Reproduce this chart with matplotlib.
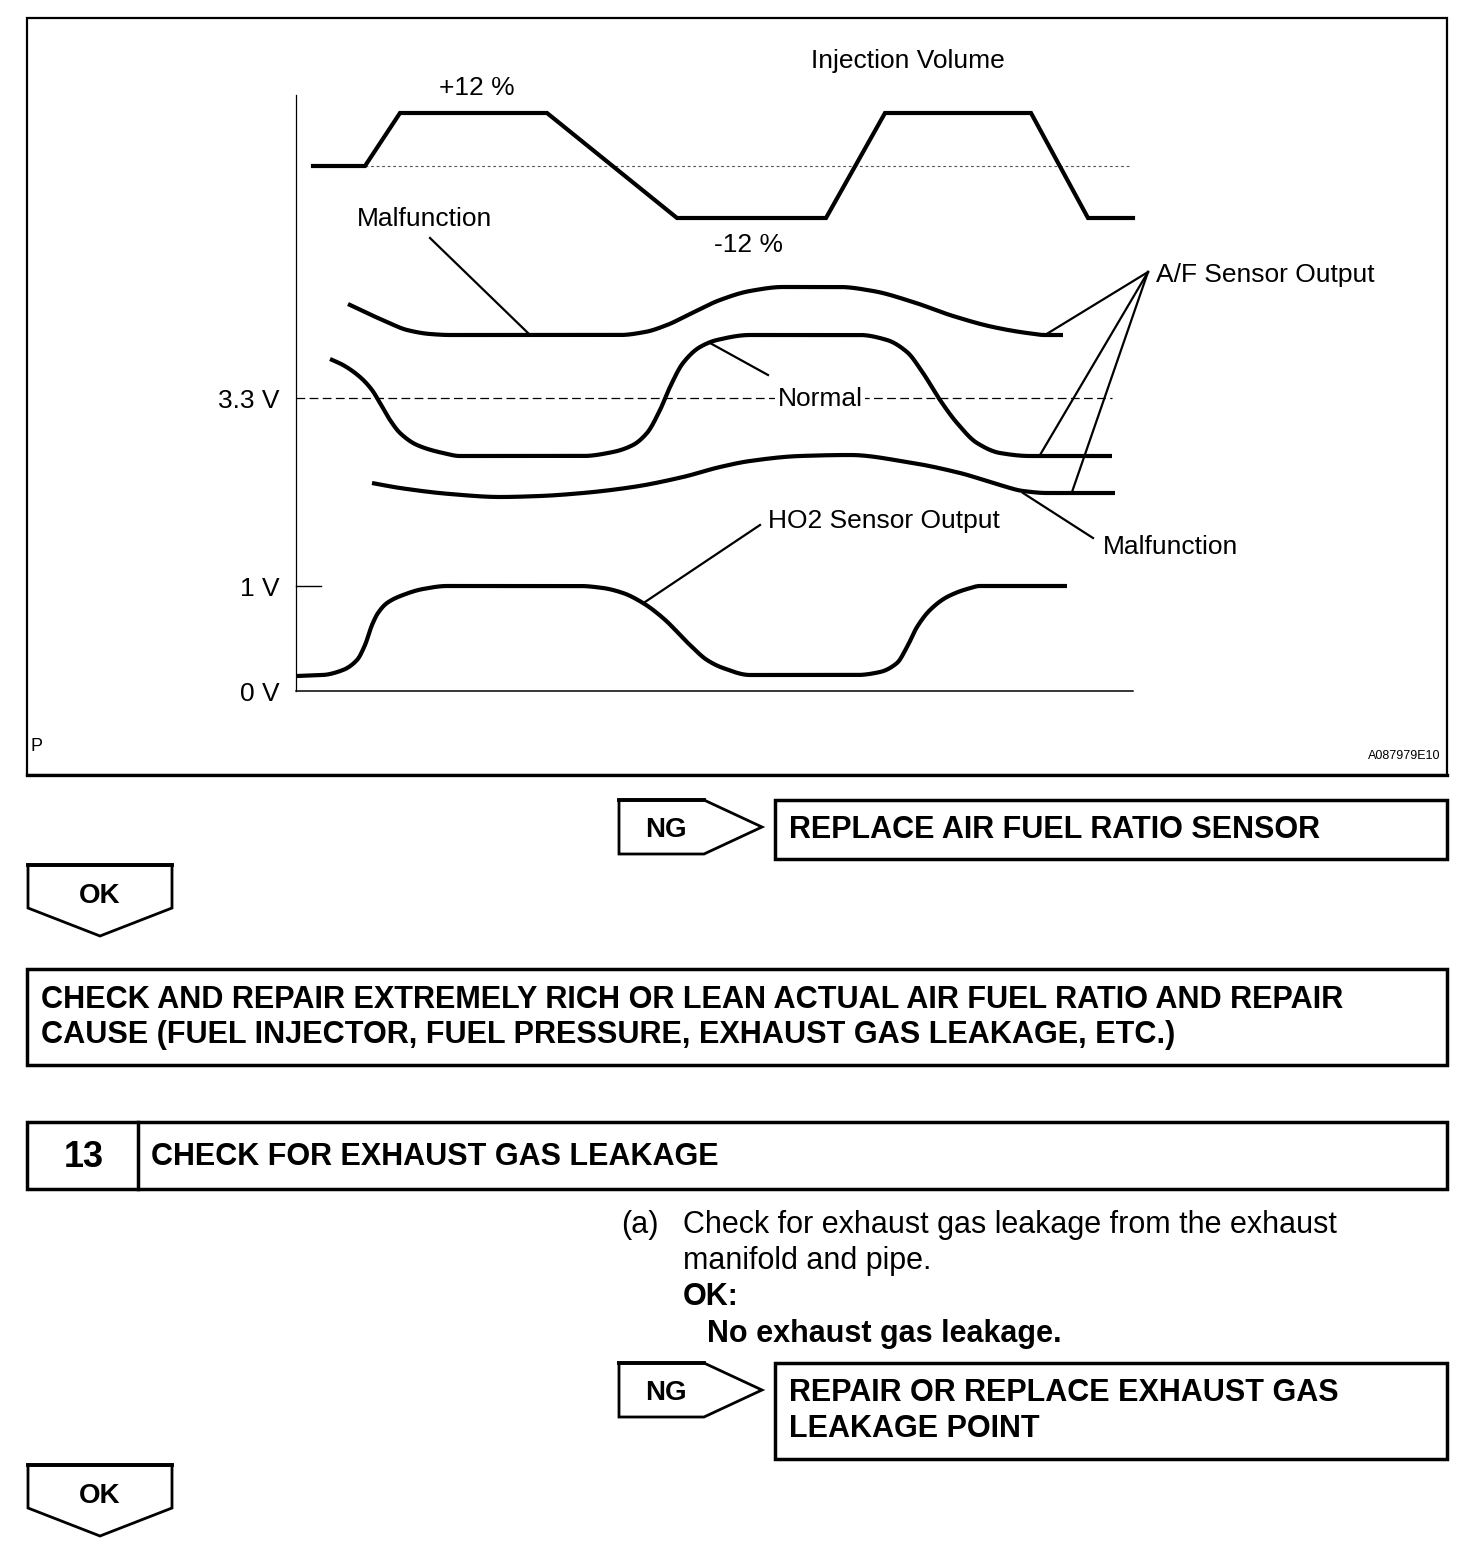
import numpy as np
import matplotlib
matplotlib.use("Agg")
import matplotlib.pyplot as plt
from matplotlib.patches import Polygon, Rectangle

plt.rcParams['font.family'] = ['Liberation Sans', 'DejaVu Sans']

# ---------------------------------------------------------------
# Waveform data (diagram units = pixels)
# ---------------------------------------------------------------
# injection volume: 0 % -> +12 % -> -12 % -> +12 % -> -12 %
inj_x = [313, 365, 400, 547, 677, 826, 885, 1031, 1088, 1133]
inj_y = [166, 166, 113, 113, 218, 218, 113, 113, 218, 218]

# A/F sensor output, malfunction (slow, upper trace)
afm_up_x = [348, 367, 387, 407, 430, 450, 620, 645, 667, 690, 720, 750, 783,
            840, 873, 913, 953, 993, 1027, 1045, 1063]
afm_up_y = [304, 313, 322, 330, 334, 335, 335, 332, 325, 314, 300, 291, 287,
            287, 291, 302, 316, 327, 333, 335, 335]

# A/F sensor output, normal
afn_x = [330, 343, 360, 372, 380, 390, 400, 417, 443, 460, 583, 613, 633, 647,
         660, 670, 683, 700, 717, 750, 860, 887, 907, 923, 940, 957, 977, 1000,
         1030, 1112]
afn_y = [359, 365, 377, 390, 403, 420, 433, 445, 453, 456, 456, 452, 445, 433,
         410, 387, 363, 347, 340, 335, 335, 340, 352, 373, 400, 423, 443, 453,
         456, 456]

# A/F sensor output, malfunction (flat, lower trace)
afm_lo_x = [372, 400, 450, 500, 540, 583, 633, 683, 720, 750, 800, 850, 907,
            960, 1000, 1023, 1047, 1115]
afm_lo_y = [483, 488, 494, 497, 496, 493, 487, 477, 467, 461, 456, 455, 462,
            473, 485, 491, 493, 493]

# HO2 sensor output
ho2_x = [297, 323, 343, 357, 365, 372, 378, 387, 403, 423, 447, 580, 603, 623,
         643, 663, 690, 707, 723, 750, 857, 880, 897, 907, 917, 930, 947, 967,
         980, 1067]
ho2_y = [676, 675, 670, 660, 645, 625, 613, 603, 595, 589, 586, 586, 588, 593,
         603, 618, 645, 660, 668, 675, 675, 672, 663, 647, 627, 610, 597, 589,
         586, 586]

volt_labels = ['3.3 V', '1 V', '0 V']
volt_y = [398, 586, 691]

box_lines_1 = ['REPLACE AIR FUEL RATIO SENSOR']
box_lines_2 = ['CHECK AND REPAIR EXTREMELY RICH OR LEAN ACTUAL AIR FUEL RATIO AND REPAIR',
               'CAUSE (FUEL INJECTOR, FUEL PRESSURE, EXHAUST GAS LEAKAGE, ETC.)']
box_lines_3 = ['REPAIR OR REPLACE EXHAUST GAS', 'LEAKAGE POINT']
step_no = '13'
step_title = 'CHECK FOR EXHAUST GAS LEAKAGE'
body_lines = ['Check for exhaust gas leakage from the exhaust', 'manifold and pipe.']


def pchip(xk, yk, n=1200):
    # monotone cubic through the read points (no overshoot on plateaus)
    xk = np.asarray(xk, float)
    yk = np.asarray(yk, float)
    h = np.diff(xk)
    d = np.diff(yk) / h
    m = np.zeros_like(yk)
    m[0], m[-1] = d[0], d[-1]
    for k in range(1, len(xk) - 1):
        if d[k - 1] * d[k] > 0:
            w1 = 2 * h[k] + h[k - 1]
            w2 = h[k] + 2 * h[k - 1]
            m[k] = (w1 + w2) / (w1 / d[k - 1] + w2 / d[k])
    xs = np.linspace(xk[0], xk[-1], n)
    i = np.clip(np.searchsorted(xk, xs) - 1, 0, len(h) - 1)
    t = (xs - xk[i]) / h[i]
    h00 = 2 * t**3 - 3 * t**2 + 1
    h10 = t**3 - 2 * t**2 + t
    h01 = -2 * t**3 + 3 * t**2
    h11 = t**3 - t**2
    ys = h00 * yk[i] + h10 * h[i] * m[i] + h01 * yk[i + 1] + h11 * h[i] * m[i + 1]
    return xs, ys


def label(ax, x, yc, s, size=19, weight='normal', ha='left', **kw):
    # place text by the centre of its capitals
    base = yc + 0.716 * size * 100 / 72 / 2
    return ax.text(x, base, s, fontsize=size, fontweight=weight, ha=ha,
                   va='baseline', **kw)


fig = plt.figure(figsize=(14.72, 15.52), dpi=100)
ax = fig.add_axes([0, 0, 1, 1])
ax.set_xlim(0, 1472)
ax.set_ylim(1552, 0)
ax.axis('off')

# ---------------- diagram frame ----------------
ax.add_patch(Rectangle((27, 18), 1420, 757, fill=False, lw=1.6, ec='black'))
ax.plot([27, 1447], [775, 775], color='black', lw=2.4)

# axes of the diagram
ax.plot([296, 296], [95, 691], color='black', lw=0.9)
ax.plot([296, 1133], [691, 691], color='black', lw=1.1)
ax.plot([296, 321], [586, 586], color='black', lw=1.0)
ax.plot([296, 1112], [398, 398], color='black', lw=0.9, dashes=(7, 3.5))
ax.plot([365, 1130], [166, 166], color='#555555', lw=0.8, dashes=(2.5, 2.5))

for s, y in zip(volt_labels, volt_y):
    label(ax, 280, y + 1, s, ha='right')

# traces
ax.plot(inj_x, inj_y, color='black', lw=3.0, solid_joinstyle='miter')
for xk, yk in [(afm_up_x, afm_up_y), (afn_x, afn_y), (afm_lo_x, afm_lo_y),
               (ho2_x, ho2_y)]:
    xs, ys = pchip(xk, yk)
    ax.plot(xs, ys, color='black', lw=3.0, solid_capstyle='butt')

# leader lines
leaders = [((430, 238), (528, 333)),
           ((710, 343), (768, 375)),
           ((1148, 272), (1045, 335)),
           ((1148, 272), (1040, 455)),
           ((1148, 272), (1072, 492)),
           ((1023, 493), (1093, 538)),
           ((645, 602), (760, 525))]
for (x0, y0), (x1, y1) in leaders:
    ax.plot([x0, x1], [y0, y1], color='black', lw=1.6)

label(ax, 908, 59, 'Injection Volume', ha='center')
label(ax, 477, 86, '+12 %', ha='center')
label(ax, 748, 243, '-12 %', ha='center')
label(ax, 357, 217, 'Malfunction')
label(ax, 1156, 273, 'A/F Sensor Output')
label(ax, 820, 397, 'Normal', ha='center',
      bbox=dict(facecolor='white', edgecolor='none', pad=1.5))
label(ax, 1103, 545, 'Malfunction')
label(ax, 768, 519, 'HO2 Sensor Output')
label(ax, 31, 745, 'P', size=13)
label(ax, 1440, 755, 'A087979E10', size=9, ha='right')


# ---------------- flow chart part ----------------
def ng_arrow(y0, y1):
    ym = (y0 + y1) / 2
    ax.add_patch(Polygon([(619, y0), (704, y0), (762, ym), (704, y1), (619, y1)],
                         closed=True, fill=False, lw=2.0, ec='black',
                         joinstyle='miter'))
    ax.plot([619, 704], [y0, y0], color='black', lw=2.8)
    label(ax, 645, ym, 'NG', size=20, weight='bold')


def ok_arrow(y0):
    ax.add_patch(Polygon([(28, y0), (172, y0), (172, y0 + 43), (100, y0 + 71),
                          (28, y0 + 43)], closed=True, fill=False, lw=2.0,
                         ec='black', joinstyle='miter'))
    ax.plot([28, 172], [y0, y0], color='black', lw=2.8)
    label(ax, 100, y0 + 28, 'OK', size=20, weight='bold', ha='center')


def box(x0, y0, x1, y1):
    ax.add_patch(Rectangle((x0, y0), x1 - x0, y1 - y0, fill=False, lw=2.5,
                           ec='black', joinstyle='miter'))


ng_arrow(800, 854)
box(775, 800, 1447, 859)
for i, s in enumerate(box_lines_1):
    label(ax, 789, 827 + 36 * i, s, size=22, weight='bold')

ok_arrow(865)

box(27, 969, 1447, 1065)
for i, s in enumerate(box_lines_2):
    label(ax, 41, 997 + 35.5 * i, s, size=22.1, weight='bold')

box(27, 1122, 1447, 1189)
ax.plot([138, 138], [1122, 1189], color='black', lw=2.5)
label(ax, 84, 1154, step_no, size=26, weight='bold', ha='center')
label(ax, 151, 1154, step_title, size=22, weight='bold')

label(ax, 621, 1222, '(a)', size=22)
for i, s in enumerate(body_lines):
    label(ax, 683, 1222 + 36 * i, s, size=22)
label(ax, 683, 1294, 'OK:', size=22, weight='bold')
label(ax, 707, 1331, 'No exhaust gas leakage.', size=22, weight='bold')

ng_arrow(1363, 1417)
box(775, 1363, 1447, 1459)
for i, s in enumerate(box_lines_3):
    label(ax, 789, 1390 + 36 * i, s, size=22, weight='bold')

ok_arrow(1465)

fig.savefig('out.png', dpi=100, facecolor='white')
